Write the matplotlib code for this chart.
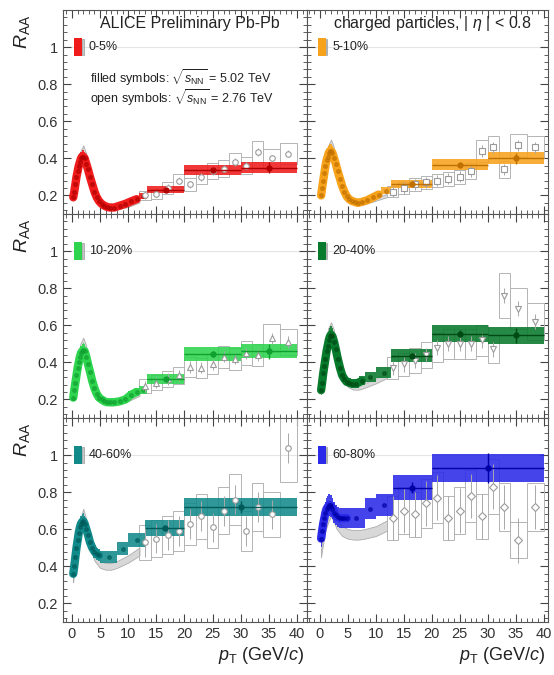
import numpy as np
import matplotlib
matplotlib.use('Agg')
import matplotlib.pyplot as plt
from matplotlib.patches import Rectangle
from matplotlib.ticker import MultipleLocator, FixedLocator, FixedFormatter

plt.rcParams['font.family'] = ['Liberation Sans', 'DejaVu Sans']
plt.rcParams['mathtext.fontset'] = 'custom'
plt.rcParams['mathtext.rm'] = 'Liberation Sans'
plt.rcParams['mathtext.it'] = 'Liberation Sans:italic'
plt.rcParams['mathtext.bf'] = 'Liberation Sans:bold'

# ---------------- data ----------------
centralities = ['0-5%', '5-10%', '10-20%', '20-40%', '40-60%', '60-80%']

# 5.02 TeV: common low-pT bin edges, then per-centrality tails
lo_edges = [0.15, 0.3, 0.5, 0.7, 0.9, 1.1, 1.3, 1.5, 1.7, 1.9, 2.1, 2.4, 2.7,
            3.0, 3.4, 3.8, 4.2, 4.6, 5.0]

tail_0_5 = [5.5, 6, 6.5, 7, 8, 9, 10, 11, 12, 13.3, 20, 30, 40]
tail_5_10 = [5.5, 6, 6.5, 7, 8, 9, 10, 11, 12.8, 20, 30, 40]
tail_10_20 = [5.5, 6, 6.5, 7, 8, 9, 10, 11, 12, 13.3, 20, 30, 40]
tail_20_40 = [5.5, 6, 7, 8, 10, 12.8, 20, 30, 40]
tail_40_60 = [8, 10, 13, 20, 40]
tail_60_80 = [8, 10, 13, 20, 40]

raa_0_5 = [0.19, 0.22, 0.26, 0.30, 0.33, 0.36, 0.38, 0.40, 0.41, 0.41, 0.40, 0.37, 0.34, 0.30, 0.26, 0.22, 0.19, 0.17,
           0.155, 0.145, 0.138, 0.135, 0.135, 0.145, 0.155, 0.168, 0.18, 0.195, 0.23, 0.335, 0.35]
raa_5_10 = [0.20, 0.24, 0.28, 0.32, 0.36, 0.39, 0.41, 0.43, 0.44, 0.44, 0.43, 0.40, 0.37, 0.33, 0.29, 0.25, 0.22, 0.195,
            0.18, 0.17, 0.165, 0.16, 0.165, 0.175, 0.19, 0.205, 0.225, 0.26, 0.365, 0.40]
raa_10_20 = [0.21, 0.25, 0.29, 0.33, 0.37, 0.40, 0.43, 0.45, 0.46, 0.465, 0.46, 0.43, 0.39, 0.35, 0.30, 0.26, 0.23, 0.21,
             0.20, 0.19, 0.185, 0.185, 0.185, 0.19, 0.20, 0.225, 0.24, 0.25, 0.31, 0.445, 0.46]
raa_20_40 = [0.25, 0.29, 0.34, 0.38, 0.42, 0.46, 0.49, 0.52, 0.54, 0.55, 0.54, 0.51, 0.47, 0.42, 0.37, 0.33, 0.31, 0.295,
             0.29, 0.285, 0.285, 0.30, 0.32, 0.345, 0.435, 0.555, 0.545]
raa_40_60 = [0.36, 0.40, 0.45, 0.50, 0.54, 0.58, 0.61, 0.63, 0.64, 0.645, 0.63, 0.60, 0.57, 0.53, 0.50, 0.48, 0.465, 0.46,
             0.45, 0.495, 0.54, 0.605, 0.72]
raa_60_80 = [0.55, 0.59, 0.63, 0.66, 0.69, 0.71, 0.72, 0.73, 0.73, 0.725, 0.71, 0.69, 0.675, 0.665, 0.66, 0.66, 0.66, 0.66,
             0.66, 0.71, 0.73, 0.825, 0.93]

# statistical errors of the widest (last) bins
stat_0_5 = [0.006, 0.012, 0.03]
stat_5_10 = [0.006, 0.012, 0.03]
stat_10_20 = [0.008, 0.015, 0.04]
stat_20_40 = [0.008, 0.02, 0.04]
stat_40_60 = [0.01, 0.03]
stat_60_80 = [0.03, 0.08]

sys_rel = [0.08, 0.08, 0.08, 0.08, 0.07, 0.08]

# 2.76 TeV: low-pT band
lo276_pt = [0.2, 0.5, 1.0, 1.5, 2.0, 2.5, 3, 4, 5, 6, 7, 8, 10, 12]
lo276_0_5 = [0.18, 0.25, 0.35, 0.42, 0.45, 0.41, 0.34, 0.23, 0.17, 0.14, 0.13, 0.13, 0.145, 0.17]
lo276_5_10 = [0.20, 0.27, 0.38, 0.45, 0.48, 0.44, 0.37, 0.25, 0.19, 0.16, 0.155, 0.16, 0.18, 0.20]
lo276_10_20 = [0.21, 0.29, 0.40, 0.48, 0.51, 0.47, 0.39, 0.28, 0.21, 0.18, 0.175, 0.18, 0.20, 0.23]
lo276_20_40 = [0.24, 0.34, 0.47, 0.56, 0.59, 0.55, 0.46, 0.35, 0.28, 0.265, 0.265, 0.275, 0.30, 0.33]
lo276_40_60 = [0.33, 0.42, 0.54, 0.63, 0.68, 0.63, 0.55, 0.45, 0.41, 0.40, 0.40, 0.41, 0.44, 0.48]
lo276_60_80 = [0.47, 0.53, 0.62, 0.67, 0.70, 0.67, 0.63, 0.59, 0.575, 0.57, 0.57, 0.575, 0.59, 0.62]

# 2.76 TeV: high-pT points
hi276_edges = [12, 14, 16, 18, 20, 22, 24, 26, 28, 30, 32, 34, 37, 40]
hi276_0_5 = [0.20, 0.21, 0.24, 0.28, 0.26, 0.30, 0.33, 0.345, 0.38, 0.36, 0.435, 0.40, 0.425]
hi276_5_10 = [0.22, 0.24, 0.26, 0.27, 0.28, 0.29, 0.30, 0.33, 0.44, 0.46, 0.34, 0.47, 0.46]
hi276_10_20 = [0.27, 0.29, 0.31, 0.33, 0.375, 0.37, 0.39, 0.43, 0.42, 0.45, 0.44, 0.53, 0.51]
hi276_20_40 = [0.37, 0.39, 0.41, 0.44, 0.48, 0.50, 0.50, 0.50, 0.52, 0.47, 0.76, 0.69, 0.62]
hi276_40_60 = [0.53, 0.55, 0.57, 0.59, 0.63, 0.67, 0.61, 0.70, 0.76, 0.59, 0.72, 0.68, 1.04]
hi276_60_80 = [0.66, 0.70, 0.68, 0.74, 0.77, 0.66, 0.70, 0.78, 0.67, 0.83, 0.72, 0.54, 0.72]
sys276_rel = [0.13, 0.13, 0.14, 0.16, 0.18, 0.18]
stat276 = [0.02, 0.03, 0.03, 0.04, 0.08, 0.12]

colors = ['#f01c1c', '#f7a21b', '#2ed44e', '#087a2c', '#138a8a', '#2a2ae8']
dark = ['#b00000', '#c07000', '#10a030', '#004a14', '#005a5a', '#0000a8']
markers276 = ['o', 's', '^', 'v', 'o', 'D']

tails = [tail_0_5, tail_5_10, tail_10_20, tail_20_40, tail_40_60, tail_60_80]
raas = [raa_0_5, raa_5_10, raa_10_20, raa_20_40, raa_40_60, raa_60_80]
stats = [stat_0_5, stat_5_10, stat_10_20, stat_20_40, stat_40_60, stat_60_80]
lo276s = [lo276_0_5, lo276_5_10, lo276_10_20, lo276_20_40, lo276_40_60, lo276_60_80]
hi276s = [hi276_0_5, hi276_5_10, hi276_10_20, hi276_20_40, hi276_40_60, hi276_60_80]

# ---------------- figure ----------------
W, H = 554, 675
fig = plt.figure(figsize=(W / 100, H / 100), dpi=100)

top_px, bot_px = 10, 622
row_h = (bot_px - top_px) / 3
col_px = [(63, 307), (307, 548)]
xlims = [(-1.6, 41.8), (-2.3, 40.8)]

gray = '#9a9a9a'
tickcol = '#444444'

for i, cent in enumerate(centralities):
    r, c = divmod(i, 2)
    x0, x1 = col_px[c]
    ytop = top_px + r * row_h
    ax = fig.add_axes([x0 / W, 1 - (ytop + row_h) / H, (x1 - x0) / W, row_h / H])
    ax.set_xlim(*xlims[c])
    ax.set_ylim(0.1, 1.2)
    ax.axhline(1.0, color='#e4e4e4', lw=0.8, zorder=0)

    # ---- 2.76 TeV low-pT band
    lp = np.array(lo276_pt)
    lv = np.array(lo276s[i])
    ls = lv * 0.045
    ax.fill_between(lp, lv - ls, lv + ls, facecolor='#d6d6d6', edgecolor='#a8a8a8', lw=0.6, alpha=0.95, zorder=1)

    # ---- 2.76 TeV high-pT boxes and points
    he = np.array(hi276_edges)
    hc = 0.5 * (he[1:] + he[:-1])
    hw = np.diff(he)
    hv = np.array(hi276s[i])
    hs = hv * sys276_rel[i]
    for xl, w, v, s in zip(he[:-1], hw, hv, hs):
        ax.add_patch(Rectangle((xl, v - s), w, 2 * s, facecolor='none', edgecolor='#b4b4b4', lw=0.7, zorder=2))
    ax.errorbar(hc, hv, yerr=stat276[i], fmt=markers276[i], ms=4, mfc='white', mec=gray, mew=0.8,
                ecolor='#a8a8a8', elinewidth=0.7, capsize=0, zorder=5)

    # ---- 5.02 TeV boxes
    e = np.array(lo_edges + tails[i])
    v = np.array(raas[i])
    w = np.diff(e)
    ctr = 0.5 * (e[1:] + e[:-1])
    s = v * sys_rel[i]
    ax.bar(e[:-1], 2 * s, width=w, bottom=v - s, align='edge', color=colors[i], alpha=0.88, lw=0, zorder=3)
    fine = w <= 1.0
    nfine = int(np.argmin(fine)) if not fine.all() else len(w)
    ax.plot(ctr[:nfine], v[:nfine], '-', lw=6, color=colors[i], solid_capstyle='round',
            solid_joinstyle='round', zorder=4)
    ax.plot(ctr, v, 'o', ms=2.6, color=dark[i], zorder=4.5, alpha=0.6)
    nst = len(stats[i])
    ax.errorbar(ctr[-nst:], v[-nst:], xerr=w[-nst:] / 2, yerr=stats[i], fmt='o', ms=3.5, color=dark[i],
                elinewidth=1.0, capsize=0, zorder=6)

    # ---- legend box
    tr = ax.get_yaxis_transform()
    ax.add_patch(Rectangle((0.045, 0.95), 0.032, 0.1, transform=tr, facecolor=colors[i], edgecolor='none', zorder=7))
    ax.add_patch(Rectangle((0.077, 0.955), 0.008, 0.09, transform=tr, facecolor='#c8c8c8', edgecolor=gray,
                           lw=0.5, zorder=7))
    ax.text(0.105, 1.0, cent, transform=tr, fontsize=9, va='center', ha='left', color='#222222')

    # ---- ticks
    ax.xaxis.set_major_locator(MultipleLocator(5))
    ax.xaxis.set_minor_locator(MultipleLocator(1))
    ax.yaxis.set_major_locator(FixedLocator([0.2, 0.4, 0.6, 0.8, 1.0]))
    ax.yaxis.set_major_formatter(FixedFormatter(['0.2', '0.4', '0.6', '0.8', '1']))
    ax.yaxis.set_minor_locator(MultipleLocator(0.04))
    ax.tick_params(which='both', direction='in', top=True, right=True, colors=tickcol, labelsize=10.5,
                   labelcolor='#333333')
    ax.tick_params(which='major', length=6, width=0.8)
    ax.tick_params(which='minor', length=3, width=0.6)
    if c == 1:
        ax.tick_params(labelleft=False)
    if r < 2:
        ax.tick_params(labelbottom=False)
    for sp in ax.spines.values():
        sp.set_color('#555555')
        sp.set_linewidth(0.8)

    if i == 0:
        ax.text(0.52, 0.936, 'ALICE Preliminary Pb-Pb', transform=ax.transAxes, fontsize=11.5,
                ha='center', va='center', color='#222222')
        ax.text(0.11, 0.667, r'filled symbols: $\sqrt{s_{\rm NN}}$ = 5.02 TeV', transform=ax.transAxes,
                fontsize=9, ha='left', va='center', color='#222222')
        ax.text(0.11, 0.572, r'open symbols: $\sqrt{s_{\rm NN}}$ = 2.76 TeV', transform=ax.transAxes,
                fontsize=9, ha='left', va='center', color='#222222')
    if i == 1:
        ax.text(0.52, 0.936, r'charged particles, | $\eta$ | < 0.8', transform=ax.transAxes, fontsize=11.5,
                ha='center', va='center', color='#222222')

# R_AA labels
for r in range(3):
    ytop = top_px + r * row_h
    fig.text(22 / W, 1 - (ytop + 22) / H, r'$R_{\rm AA}$', rotation=90, fontsize=14,
             ha='center', va='center', color='#222222')

# x labels
for c in range(2):
    fig.text((col_px[c][1] - 2) / W, 1 - 655 / H, r'$p_{\rm T}$ (GeV/$c$)', fontsize=13,
             ha='right', va='center', color='#222222')

fig.savefig('out.png', dpi=100)
